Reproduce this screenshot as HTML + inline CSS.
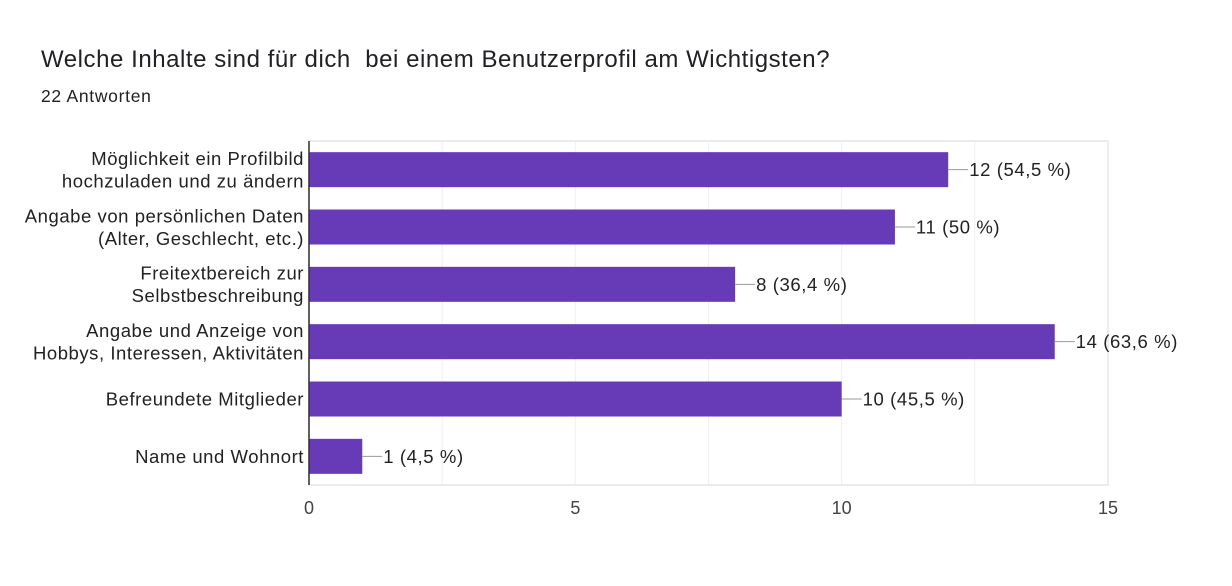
<!DOCTYPE html>
<html><head><meta charset="utf-8"><style>
body{margin:0;background:#fff;font-family:"Liberation Sans",Arial,sans-serif;}
#wrap{position:relative;width:1232px;height:586px;overflow:hidden;}
text{white-space:pre;}
</style></head><body>
<div id="wrap">
<svg id="chart" width="1232" height="586">
<text x="41" y="67" font-size="24" letter-spacing="0.55" fill="#202124">Welche Inhalte sind für dich  bei einem Benutzerprofil am Wichtigsten?</text>
<text x="41" y="102" font-size="17.5" letter-spacing="0.7" fill="#202124">22 Antworten</text>
</svg>
</div>
<script>
const categories=[["Möglichkeit ein Profilbild","hochzuladen und zu ändern"],["Angabe von persönlichen Daten","(Alter, Geschlecht, etc.)"],["Freitextbereich zur","Selbstbeschreibung"],["Angabe und Anzeige von","Hobbys, Interessen, Aktivitäten"],["Befreundete Mitglieder"],["Name und Wohnort"]];
const values=[12,11,8,14,10,1];
const valueLabels=["12 (54,5 %)","11 (50 %)","8 (36,4 %)","14 (63,6 %)","10 (45,5 %)","1 (4,5 %)"];
const ticks=[0,5,10,15];
const gridTicks=[0,2.5,5,7.5,10,12.5,15];
const svg=document.getElementById('chart');
const NS='http://www.w3.org/2000/svg';
const x0=309,x1=1108,plotTop=141,plotBottom=485,xmax=15;
const xs=v=>x0+(x1-x0)*v/xmax;
const band=(plotBottom-plotTop)/categories.length;
function mk(t,a,p){const e=document.createElementNS(NS,t);for(const k in a)e.setAttribute(k,a[k]);(p||svg).appendChild(e);return e;}
const frame=mk('rect',{x:x0,y:plotTop,width:x1-x0,height:plotBottom-plotTop,fill:'none',stroke:'#ebebeb','stroke-width':2});


gridTicks.forEach(t=>{const g=mk('line',{x1:xs(t),x2:xs(t),y1:plotTop,y2:plotBottom,stroke:'#efefef','stroke-width':1});

});
ticks.forEach(t=>{const l=mk('text',{x:xs(t),y:514,'font-size':18,fill:'#444','text-anchor':'middle'});l.textContent=t;

});
values.forEach((v,i)=>{
 const cy=plotTop+band*i+band/2;
 const b=mk('rect',{x:x0,y:cy-17.5,width:xs(v)-x0,height:35,fill:'#673ab7'});
 
 
 const ln=mk('line',{x1:xs(v),x2:xs(v)+20,y1:cy,y2:cy,stroke:'#999','stroke-width':1});
 
 
 const vl=mk('text',{x:xs(v)+21,y:cy+6.5,'font-size':18.5,'letter-spacing':0.6,fill:'#222'});vl.textContent=valueLabels[i];
 
 
 const lines=categories[i];
 lines.forEach((s,j)=>{const y=cy+6.5+(j-(lines.length-1)/2)*22.5;
  const t=mk('text',{x:304,y:y,'font-size':18.5,'letter-spacing':0.55,fill:'#222','text-anchor':'end'});t.textContent=s;
  
  });
});
const ax=mk('line',{x1:x0,x2:x0,y1:plotTop,y2:plotBottom,stroke:'#333','stroke-width':1.5});


</script>
</body></html>
